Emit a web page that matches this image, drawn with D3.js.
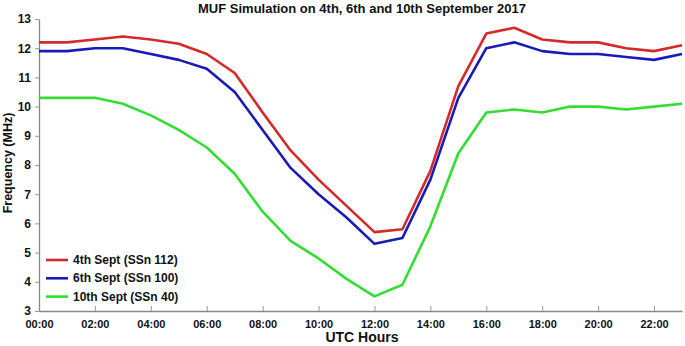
<!DOCTYPE html>
<html>
<head>
<meta charset="utf-8">
<script src="https://d3js.org/d3.v7.min.js"></script>
<style>
  body { margin: 0; background: #fff; }
  svg { font-family: "Liberation Sans", Arial, sans-serif; }
</style>
</head>
<body>
<div id="chart"></div>
<script>
// hours 0..23
const hours = d3.range(0, 24);
const sept4 = [12.2, 12.2, 12.3, 12.4, 12.3, 12.15, 11.8, 11.15, 9.8, 8.5, 7.5, 6.6, 5.7, 5.8, 7.8, 10.7, 12.5, 12.7, 12.3, 12.2, 12.2, 12.0, 11.9, 12.1];
const sept6 = [11.9, 11.9, 12.0, 12.0, 11.8, 11.6, 11.3, 10.5, 9.2, 7.9, 7.0, 6.2, 5.3, 5.5, 7.5, 10.3, 12.0, 12.2, 11.9, 11.8, 11.8, 11.7, 11.6, 11.8];
const sept10 = [10.3, 10.3, 10.3, 10.1, 9.7, 9.2, 8.6, 7.7, 6.4, 5.4, 4.8, 4.1, 3.5, 3.9, 5.9, 8.4, 9.8, 9.9, 9.8, 10.0, 10.0, 9.9, 10.0, 10.1];
const seriesNames = ["4th Sept (SSn 112)", "6th Sept (SSn 100)", "10th Sept (SSn 40)"];
const seriesColors = ["#d42a2a", "#1a1ab8", "#33dd33"];
const xTicks = [0, 2, 4, 6, 8, 10, 12, 14, 16, 18, 20, 22];
const yTicks = [3, 4, 5, 6, 7, 8, 9, 10, 11, 12, 13];

const W = 685, H = 346;
const margin = { top: 19, right: 3, bottom: 35, left: 39 };

const svg = d3.select("#chart").append("svg")
    .attr("width", W)
    .attr("height", H);

const x = d3.scaleLinear().domain([0, 23]).range([margin.left, W - margin.right]);
const y = d3.scaleLinear().domain([3, 13]).range([H - margin.bottom, margin.top]);

// X axis
const xAxis = svg.append("g")
    .attr("transform", `translate(0,${H - margin.bottom})`)
    .call(d3.axisBottom(x).tickValues(xTicks).tickSize(-5).tickSizeOuter(0)
        .tickFormat(d => String(d).padStart(2, "0") + ":00"));
xAxis.select(".domain").attr("stroke", "#888").attr("stroke-width", 1.3);
xAxis.selectAll(".tick line").attr("stroke", "#999");
xAxis.selectAll(".tick text")
    .attr("y", 9)
    .style("font-size", "11px")
    .style("font-weight", "bold")
    .attr("fill", "#111");

// Y axis
const yAxis = svg.append("g")
    .attr("transform", `translate(${margin.left},0)`)
    .call(d3.axisLeft(y).tickValues(yTicks).tickSize(4).tickSizeOuter(0));
yAxis.select(".domain").attr("stroke", "#888").attr("stroke-width", 1.3);
yAxis.selectAll(".tick line").attr("stroke", "#999");
yAxis.selectAll(".tick text")
    .attr("x", -8)
    .style("font-size", "12px")
    .style("font-weight", "bold")
    .attr("fill", "#111");

// Lines
const allSeries = [sept4, sept6, sept10];
const line = d3.line()
    .x((d, i) => x(hours[i]))
    .y(d => y(d));

allSeries.forEach((vals, i) => {
    svg.append("path")
        .datum(vals)
        .attr("fill", "none")
        .attr("stroke", seriesColors[i])
        .attr("stroke-width", 2.6)
        .attr("stroke-linejoin", "round")
        .attr("d", line);
});

// Title
svg.append("text")
    .attr("x", 362)
    .attr("y", 13)
    .attr("text-anchor", "middle")
    .style("font-size", "13px")
    .style("font-weight", "bold")
    .attr("fill", "#111")
    .text("MUF Simulation on 4th, 6th and 10th September 2017");

// Axis labels
svg.append("text")
    .attr("x", 362)
    .attr("y", 342)
    .attr("text-anchor", "middle")
    .style("font-size", "14px")
    .style("font-weight", "bold")
    .attr("fill", "#111")
    .text("UTC Hours");

svg.append("text")
    .attr("transform", "translate(12,163) rotate(-90)")
    .attr("text-anchor", "middle")
    .style("font-size", "12.5px")
    .style("font-weight", "bold")
    .attr("fill", "#111")
    .text("Frequency (MHz)");

// Legend
const legend = svg.append("g").attr("transform", "translate(46,260)");
seriesNames.forEach((name, i) => {
    const row = legend.append("g").attr("transform", `translate(0,${i * 18.3})`);
    row.append("line")
        .attr("x1", 0).attr("x2", 22)
        .attr("y1", 0).attr("y2", 0)
        .attr("stroke", seriesColors[i])
        .attr("stroke-width", 2.6);
    row.append("text")
        .attr("x", 27)
        .attr("y", 4)
        .style("font-size", "12px")
        .style("font-weight", "bold")
        .attr("fill", "#111")
        .text(name);
});
</script>
</body>
</html>
